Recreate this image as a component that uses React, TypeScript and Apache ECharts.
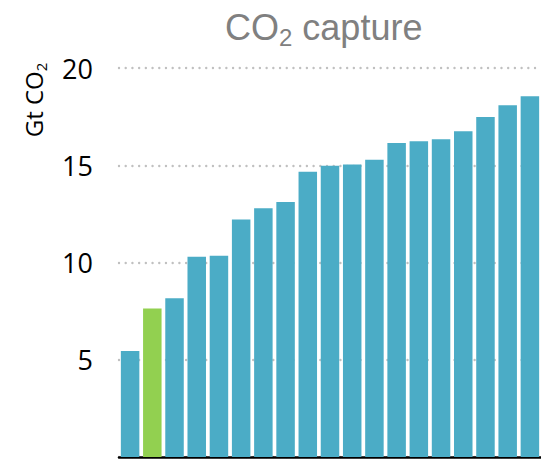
import React, { useEffect, useRef } from "react";
import * as echarts from "echarts";

const categories = ["S1","S2","S3","S4","S5","S6","S7","S8","S9","S10","S11","S12","S13","S14","S15","S16","S17","S18","S19"];
const captureValues = [5.45, 7.63, 8.16, 10.3, 10.35, 12.21, 12.79, 13.11, 14.67, 14.98, 15.04, 15.28, 16.15, 16.24, 16.34, 16.75, 17.48, 18.08, 18.55];
const highlightIndex = 1;
const yTicks = { min: 0, max: 20, interval: 5 };

const BLUE = "#4BACC6";
const GREEN = "#92D050";

export default function App() {
  const ref = useRef<HTMLDivElement>(null);
  useEffect(() => {
    if (!ref.current) return;
    const chart = echarts.init(ref.current, undefined, { renderer: "svg" });
    chart.setOption({
      animation: false,
      backgroundColor: "#ffffff",
      title: {
        text: "{a|CO}{s|2}{a| capture}",
        left: 220,
        top: 0,
        textStyle: {
          fontWeight: "normal",
          rich: {
            a: { fontFamily: "Liberation Sans", fontSize: 36, fontWeight: "normal", color: "#808080", lineHeight: 44 },
            s: { fontFamily: "Liberation Sans", fontSize: 24, fontWeight: "normal", color: "#808080", lineHeight: 44, verticalAlign: "bottom", padding: [14, 0, 0, 0] },
          },
        },
      },
      graphic: [
        {
          type: "text",
          x: 33,
          y: 100,
          rotation: Math.PI / 2,
          style: {
            text: "{a|Gt CO}{s|2}",
            textAlign: "center",
            textVerticalAlign: "middle",
            rich: {
              a: { fontFamily: "Open Sans", fontSize: 24, fill: "#000", lineHeight: 30 },
              s: { fontFamily: "Open Sans", fontSize: 15, fill: "#000", lineHeight: 30, verticalAlign: "bottom", padding: [9, 0, 0, 0] },
            },
          },
        },
      ],
      grid: { left: 119, right: -2, top: 68, bottom: 2, containLabel: false },
      xAxis: {
        type: "category",
        data: categories,
        axisLine: { show: true, lineStyle: { color: "#000", width: 2.5 } },
        axisTick: { show: false },
        axisLabel: { show: false },
        splitLine: { show: false },
      },
      yAxis: {
        type: "value",
        min: yTicks.min,
        max: yTicks.max,
        interval: yTicks.interval,
        axisLine: { show: false },
        axisTick: { show: false },
        axisLabel: {
          showMinLabel: false,
          margin: 26,
          fontFamily: "Open Sans",
          fontSize: 27,
          color: "#000",
        },
        splitLine: {
          show: true,
          lineStyle: { color: "#c0c0c0", width: 2.4, type: [0.01, 6.7], cap: "round" },
        },
      },
      series: [
        {
          type: "bar",
          barWidth: 18.5,
          data: captureValues.map((v, i) => ({
            value: v,
            itemStyle: { color: i === highlightIndex ? GREEN : BLUE },
          })),
        },
      ],
    });
    return () => chart.dispose();
  }, []);
  return <div ref={ref} style={{ position: "fixed", left: 0, top: 0, width: 541, height: 459 }} />;
}
